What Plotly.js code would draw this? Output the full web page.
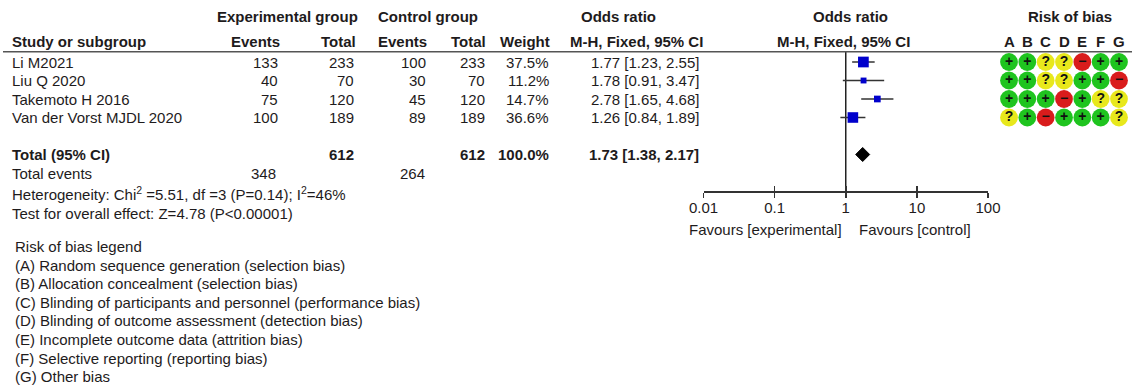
<!DOCTYPE html>
<html>
<head>
<meta charset="utf-8">
<script src="https://cdn.plot.ly/plotly-3.0.1.min.js"></script>
<style>
  html, body { margin: 0; padding: 0; background: #ffffff; }
  #forest { width: 1132px; height: 389px; }
</style>
</head>
<body>
<div id="forest"></div>
<script>
// ---- Study data ----
const studies    = ['Li M2021', 'Liu Q 2020', 'Takemoto H 2016', 'Van der Vorst MJDL 2020'];
const expEvents  = [133, 40, 75, 100];
const expTotal   = [233, 70, 120, 189];
const ctlEvents  = [100, 30, 45, 89];
const ctlTotal   = [233, 70, 120, 189];
const weightPct  = [37.5, 11.2, 14.7, 36.6];
const oddsRatio  = [1.77, 1.78, 2.78, 1.26];
const ciLower    = [1.23, 0.91, 1.65, 0.84];
const ciUpper    = [2.55, 3.47, 4.68, 1.89];

// ---- Pooled result ----
const pooledExpEvents = 348;
const pooledCtlEvents = 264;
const pooledExpTotal  = 612;
const pooledCtlTotal  = 612;
const pooledWeight    = 100.0;
const pooledOR        = 1.73;
const pooledLower     = 1.38;
const pooledUpper     = 2.17;
const heterogeneityText = 'Heterogeneity: Chi<sup>2</sup> =5.51, df =3 (P=0.14); I<sup>2</sup>=46%';
const overallEffectText = 'Test for overall effect: Z=4.78 (P<0.00001)';

// ---- Axis ticks ----
const orTickVals   = [0.01, 0.1, 1, 10, 100];
const orTickLabels = ['0.01', '0.1', '1', '10', '100'];
const favoursLeft  = 'Favours [experimental]';
const favoursRight = 'Favours [control]';

// ---- Risk of bias ----
const biasDomains = ['A', 'B', 'C', 'D', 'E', 'F', 'G'];
const biasRatings = [
  ['+', '+', '?', '?', '-', '+', '+'],
  ['+', '+', '?', '?', '+', '+', '-'],
  ['+', '+', '+', '-', '+', '?', '?'],
  ['?', '+', '-', '+', '+', '+', '?']
];
const biasLegendTitle = 'Risk of bias legend';
const biasLegendItems = [
  '(A) Random sequence generation (selection bias)',
  '(B) Allocation concealment (selection bias)',
  '(C) Blinding of participants and personnel (performance bias)',
  '(D) Blinding of outcome assessment (detection bias)',
  '(E) Incomplete outcome data (attrition bias)',
  '(F) Selective reporting (reporting bias)',
  '(G) Other bias'
];

// ---- Layout geometry (pixels) ----
const W = 1132, H = 389;
const ROW0 = 62, ROWH = 18.5;           // first study row and row pitch
const TOTAL_ROW = studies.length + 1;   // pooled row index (blank row above it)
const AXIS_Y = 191;                     // pixel height of the OR axis line
const HEADER_LINE_Y = 51.7;
const FONT = 'Liberation Sans, Arial, Helvetica, sans-serif';
const TXT = '#1e1b1c';
const FS = 15;

const px2row = p => (p - ROW0) / ROWH;
const px = x => x / W;
const py = y => 1 - y / H;

const ratingColor = { '+': '#1fc41f', '?': '#e8e81c', '-': '#d91c1c' };
const ratingGlyph = { '+': '+', '?': '?', '-': '\u2212' };
const studyRows = studies.map((_, i) => i);

// ---- Traces ----
const traces = [];

// line of no effect
traces.push({
  x: [1, 1], y: [px2row(HEADER_LINE_Y), px2row(AXIS_Y)],
  xaxis: 'x', yaxis: 'y', mode: 'lines',
  line: { color: '#222', width: 1.5 }, hoverinfo: 'skip'
});

// confidence intervals (drawn first so the squares sit on top)
traces.push({
  x: oddsRatio, y: studyRows,
  xaxis: 'x', yaxis: 'y', mode: 'markers', type: 'scatter',
  marker: { size: 1, opacity: 0 },
  error_x: {
    type: 'data', symmetric: false,
    array: oddsRatio.map((v, i) => ciUpper[i] - v),
    arrayminus: oddsRatio.map((v, i) => v - ciLower[i]),
    color: '#333', thickness: 1.5, width: 0
  },
  hoverinfo: 'skip'
});

// study estimates; square area follows weight
traces.push({
  x: oddsRatio, y: studyRows,
  xaxis: 'x', yaxis: 'y', mode: 'markers', type: 'scatter',
  marker: { symbol: 'square', color: '#0000cc', opacity: 1,
            size: weightPct.map(w => 1.75 * Math.sqrt(w)), line: { width: 0 } },
  hoverinfo: 'skip'
});

// pooled diamond
const dh = 0.38;
traces.push({
  x: [pooledLower, pooledOR, pooledUpper, pooledOR, pooledLower],
  y: [TOTAL_ROW, TOTAL_ROW - dh, TOTAL_ROW, TOTAL_ROW + dh, TOTAL_ROW],
  xaxis: 'x', yaxis: 'y', mode: 'lines', fill: 'toself',
  fillcolor: '#000', line: { color: '#000', width: 1 }, hoverinfo: 'skip'
});

// invisible carrier for the inner tick marks axis
traces.push({
  x: orTickVals, y: orTickVals.map(() => TOTAL_ROW),
  xaxis: 'x3', yaxis: 'y', mode: 'markers',
  marker: { opacity: 0 }, hoverinfo: 'skip'
});

// risk-of-bias dots
const bx = [], by = [], bc = [], bt = [];
biasRatings.forEach((row, i) => row.forEach((r, j) => {
  bx.push(j); by.push(i); bc.push(ratingColor[r]); bt.push(ratingGlyph[r]);
}));
traces.push({
  x: bx, y: by, xaxis: 'x2', yaxis: 'y', mode: 'markers+text',
  marker: { symbol: 'circle', size: 17.8, color: bc, line: { width: 0 } },
  text: bt, textposition: 'middle center',
  textfont: { family: FONT, size: 14, color: '#111', weight: 'bold' },
  hoverinfo: 'skip'
});

// ---- Text annotations ----
const ann = [];
function note(text, x, y, anchor, extra) {
  ann.push(Object.assign({
    text: text, x: px(x), y: py(y), xref: 'paper', yref: 'paper',
    xanchor: anchor, yanchor: 'middle', showarrow: false, borderpad: 0,
    font: { family: FONT, size: FS, color: TXT }
  }, extra || {}));
}
function rowNote(text, x, row, anchor) {
  note(text, x, 0, anchor, { y: row, yref: 'y' });
}

// group headers
note('<b>Experimental group</b>', 287, 17, 'center');
note('<b>Control group</b>', 428, 17, 'center');
note('<b>Odds ratio</b>', 618, 17, 'center');
note('<b>Odds ratio</b>', 850, 17, 'center');
note('<b>Risk of bias</b>', 1070, 17, 'center');

// column headers
note('<b>Study or subgroup</b>', 11, 42, 'left');
note('<b>Events</b>', 281, 42, 'right');
note('<b>Total</b>', 357, 42, 'right');
note('<b>Events</b>', 428, 42, 'right');
note('<b>Total</b>', 487, 42, 'right');
note('<b>Weight</b>', 551, 42, 'right');
note('<b>M-H, Fixed, 95% CI</b>', 636, 42, 'center');
note('<b>M-H, Fixed, 95% CI</b>', 843, 42, 'center');
biasDomains.forEach((d, j) => {
  ann.push({ text: '<b>' + d + '</b>', x: j, xref: 'x2', y: py(42), yref: 'paper',
    xanchor: 'center', yanchor: 'middle', showarrow: false, borderpad: 0,
    font: { family: FONT, size: FS, color: TXT } });
});

// study rows
const fmt2 = v => v.toFixed(2);
studies.forEach((s, i) => {
  rowNote(s, 11, i, 'left');
  rowNote(String(expEvents[i]), 279, i, 'right');
  rowNote(String(expTotal[i]), 355, i, 'right');
  rowNote(String(ctlEvents[i]), 427, i, 'right');
  rowNote(String(ctlTotal[i]), 486, i, 'right');
  rowNote(weightPct[i].toFixed(1) + '%', 550, i, 'right');
  rowNote(fmt2(oddsRatio[i]) + ' [' + fmt2(ciLower[i]) + ', ' + fmt2(ciUpper[i]) + ']', 700, i, 'right');
});

// pooled row
rowNote('<b>Total (95% CI)</b>', 11, TOTAL_ROW, 'left');
rowNote('<b>' + pooledExpTotal + '</b>', 355, TOTAL_ROW, 'right');
rowNote('<b>' + pooledCtlTotal + '</b>', 486, TOTAL_ROW, 'right');
rowNote('<b>' + pooledWeight.toFixed(1) + '%</b>', 550, TOTAL_ROW, 'right');
rowNote('<b>' + fmt2(pooledOR) + ' [' + fmt2(pooledLower) + ', ' + fmt2(pooledUpper) + ']</b>', 700, TOTAL_ROW, 'right');

note('Total events', 11, 173, 'left');
note(String(pooledExpEvents), 277, 173, 'right');
note(String(pooledCtlEvents), 426, 173, 'right');
note(heterogeneityText, 11, 193, 'left');
note(overallEffectText, 11, 213, 'left');

// favours labels either side of the line of no effect (log axis: x = log10(1) = 0)
ann.push({ text: favoursLeft, x: 0, xref: 'x', y: py(230), yref: 'paper', xanchor: 'right', xshift: -3,
  yanchor: 'middle', showarrow: false, borderpad: 0, font: { family: FONT, size: FS, color: TXT } });
ann.push({ text: favoursRight, x: 0, xref: 'x', y: py(230), yref: 'paper', xanchor: 'left', xshift: 12,
  yanchor: 'middle', showarrow: false, borderpad: 0, font: { family: FONT, size: FS, color: TXT } });

// risk of bias legend
note(biasLegendTitle, 14, 246, 'left');
biasLegendItems.forEach((t, k) => note(t, 14, 265 + k * 18.6, 'left'));

// ---- Layout ----
const layout = {
  width: W, height: H,
  margin: { l: 0, r: 0, t: 0, b: 0, pad: 0 },
  paper_bgcolor: '#fff', plot_bgcolor: 'rgba(0,0,0,0)',
  showlegend: false,
  font: { family: FONT, size: FS, color: TXT },
  xaxis: {
    type: 'log', domain: [px(703.5), px(988)], range: [-2, 2],
    anchor: 'free', position: py(AXIS_Y),
    showline: true, linecolor: '#333', linewidth: 1.5,
    ticks: 'outside', ticklen: 5, tickwidth: 1.5, tickcolor: '#333',
    ticklabelstandoff: -3,
    tickvals: orTickVals, ticktext: orTickLabels,
    tickfont: { family: FONT, size: FS, color: TXT },
    showgrid: false, zeroline: false, fixedrange: true
  },
  xaxis3: {
    type: 'log', overlaying: 'x', range: [-2, 2],
    anchor: 'free', position: py(AXIS_Y),
    showline: false, ticks: 'inside', ticklen: 5, tickwidth: 1.5, tickcolor: '#333',
    tickvals: orTickVals, showticklabels: false,
    showgrid: false, zeroline: false, fixedrange: true
  },
  xaxis2: {
    domain: [px(1009 - 9.17), px(1119 + 9.17)], range: [-0.5, 6.5],
    anchor: 'y', visible: false, fixedrange: true
  },
  yaxis: {
    domain: [0, 1], range: [(H - ROW0) / ROWH, -ROW0 / ROWH],
    visible: false, fixedrange: true
  },
  shapes: [{
    type: 'line', xref: 'paper', yref: 'paper',
    x0: px(3), x1: 1, y0: py(HEADER_LINE_Y), y1: py(HEADER_LINE_Y),
    line: { color: '#555', width: 1.5 }
  }],
  annotations: ann
};

Plotly.newPlot('forest', traces, layout, { staticPlot: true, displayModeBar: false });
</script>
</body>
</html>
